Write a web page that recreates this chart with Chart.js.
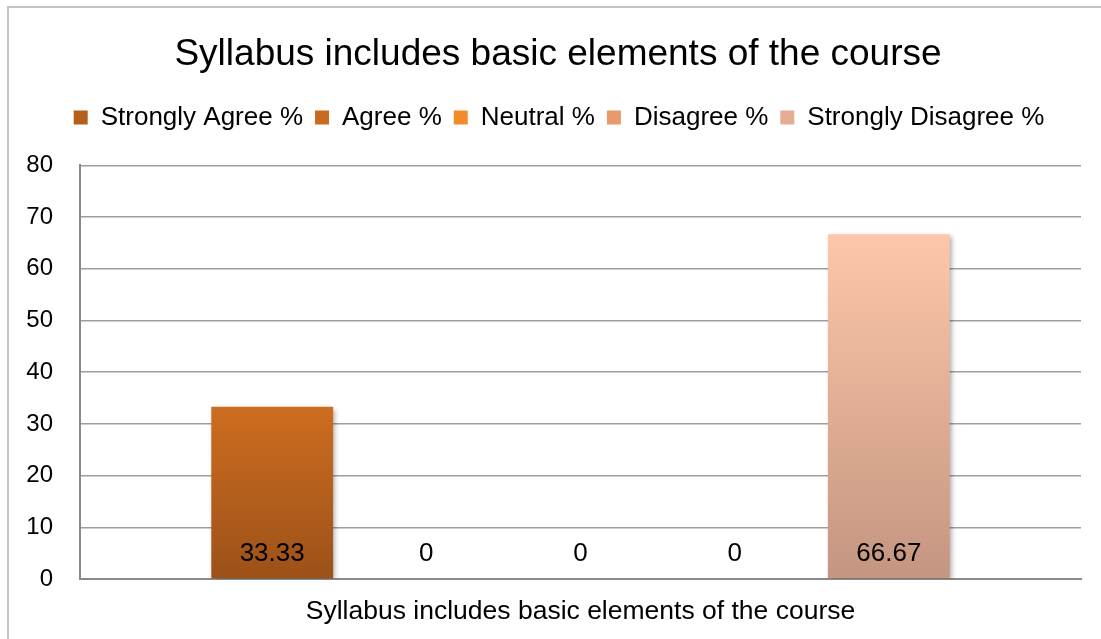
<!DOCTYPE html>
<html>
<head>
<meta charset="utf-8">
<script src="https://cdn.jsdelivr.net/npm/chart.js@4.4.1/dist/chart.umd.min.js"></script>
<style>
  html, body { margin: 0; padding: 0; background: #fff; overflow: hidden; }
  #frame {
    position: absolute; left: 7px; top: 6px;
    width: 1094px; height: 633px;
    border-top: 2px solid #c4c4c4;
    border-left: 2px solid #c4c4c4;
  }
  #chart { display: block; }
</style>
</head>
<body>
<div id="frame"><canvas id="chart" width="1092" height="631"></canvas></div>
<script>
const categories = ['Syllabus includes basic elements of the course'];
const seriesNames = ['Strongly Agree %', 'Agree %', 'Neutral %', 'Disagree %', 'Strongly Disagree %'];
const stronglyAgree = [33.33];
const agree = [0];
const neutral = [0];
const disagree = [0];
const stronglyDisagree = [66.67];
const yTicks = [0, 10, 20, 30, 40, 50, 60, 70, 80];

// top / bottom colour of each bar's gradient
const TOP_COLORS = ['#cd6d20', '#d9741f', '#ff9b30', '#fbab78', '#fdc7a9'];
const BOTTOM_COLORS = ['#9c5118', '#b25e1c', '#e07e22', '#d48b60', '#c49581'];
const LEGEND_COLORS = ['#b45f1c', '#c96a1f', '#f28b2a', '#e89a6b', '#e3ae95'];

const FONT = "'Liberation Sans', Arial, sans-serif";

function barGradient(i) {
  return function (context) {
    const chart = context.chart;
    if (!chart.chartArea || context.type !== 'data') {
      return TOP_COLORS[i];
    }
    const y = chart.scales.y;
    const base = y.getPixelForValue(0);
    const top = y.getPixelForValue(context.parsed.y);
    if (Math.abs(base - top) < 1) {
      return TOP_COLORS[i];
    }
    const g = chart.ctx.createLinearGradient(0, top, 0, base);
    g.addColorStop(0, TOP_COLORS[i]);
    g.addColorStop(1, BOTTOM_COLORS[i]);
    return g;
  };
}

const seriesValues = [stronglyAgree, agree, neutral, disagree, stronglyDisagree];

const datasets = seriesValues.map((values, i) => ({
  label: seriesNames[i],
  data: values,
  backgroundColor: barGradient(i),
  borderWidth: 0,
  categoryPercentage: 0.77,
  barPercentage: 0.79,
}));

// extra room under the legend, and title/legend centred a bit further right
const headerLayout = {
  id: 'headerLayout',
  beforeInit(chart) {
    const fit = chart.legend.fit;
    chart.legend.fit = function () {
      fit.bind(chart.legend)();
      this.height += 25;
    };
  },
  afterLayout(chart) {
    chart.titleBlock.left += 26;
    chart.legend.left += 14;
    chart.legend.right += 14;
  }
};

// shadow under bars + value labels at the bottom of each bar
const barExtras = {
  id: 'barExtras',
  beforeDatasetsDraw(chart) {
    const ctx = chart.ctx;
    ctx.save();
    ctx.shadowColor = 'rgba(0,0,0,0.35)';
    ctx.shadowBlur = 5;
    ctx.shadowOffsetX = 2;
    ctx.shadowOffsetY = 2;
  },
  afterDatasetsDraw(chart) {
    const ctx = chart.ctx;
    ctx.restore();
    const base = chart.scales.y.getPixelForValue(0);
    ctx.save();
    ctx.font = '26px ' + FONT;
    ctx.fillStyle = '#000';
    ctx.textAlign = 'center';
    ctx.textBaseline = 'middle';
    chart.data.datasets.forEach((ds, di) => {
      const meta = chart.getDatasetMeta(di);
      meta.data.forEach((bar, j) => {
        ctx.fillText(String(ds.data[j]), bar.x, base - 25);
      });
    });
    ctx.restore();
  }
};

const ctx = document.getElementById('chart');

const myChart = new Chart(ctx, {
  type: 'bar',
  data: {
    labels: categories,
    datasets: datasets,
  },
  plugins: [headerLayout, barExtras],
  options: {
    responsive: false,
    animation: false,
    devicePixelRatio: 1,
    layout: {
      padding: { left: 0, right: 20, top: 0, bottom: 0 }
    },
    plugins: {
      title: {
        display: true,
        text: 'Syllabus includes basic elements of the course',
        color: '#000',
        font: { family: FONT, size: 37, weight: 'normal' },
        padding: { top: 25, bottom: 15 }
      },
      legend: {
        position: 'top',
        labels: {
          color: '#000',
          font: { family: FONT, size: 26 },
          boxWidth: 14,
          boxHeight: 14,
          padding: 12,
          generateLabels(chart) {
            return chart.data.datasets.map((ds, i) => ({
              text: ds.label,
              fillStyle: LEGEND_COLORS[i],
              strokeStyle: LEGEND_COLORS[i],
              lineWidth: 0,
              hidden: false,
              datasetIndex: i,
              fontColor: '#000'
            }));
          }
        }
      },
      tooltip: { enabled: false }
    },
    scales: {
      x: {
        grid: { display: false },
        border: { color: '#8a8a8a', width: 2 },
        ticks: {
          color: '#000',
          font: { family: FONT, size: 26.5 },
          padding: 9
        },
        afterFit(scale) { scale.height = 60; }
      },
      y: {
        min: 0,
        max: 80,
        afterBuildTicks(scale) {
          scale.ticks = yTicks.map(v => ({ value: v }));
        },
        grid: { color: '#9e9e9e', lineWidth: 1.5, drawTicks: false },
        border: { color: '#8a8a8a', width: 2 },
        ticks: {
          color: '#000',
          font: { family: FONT, size: 24 },
          padding: 27
        },
        afterFit(scale) { scale.width = 71; }
      }
    }
  }
});
</script>
</body>
</html>
